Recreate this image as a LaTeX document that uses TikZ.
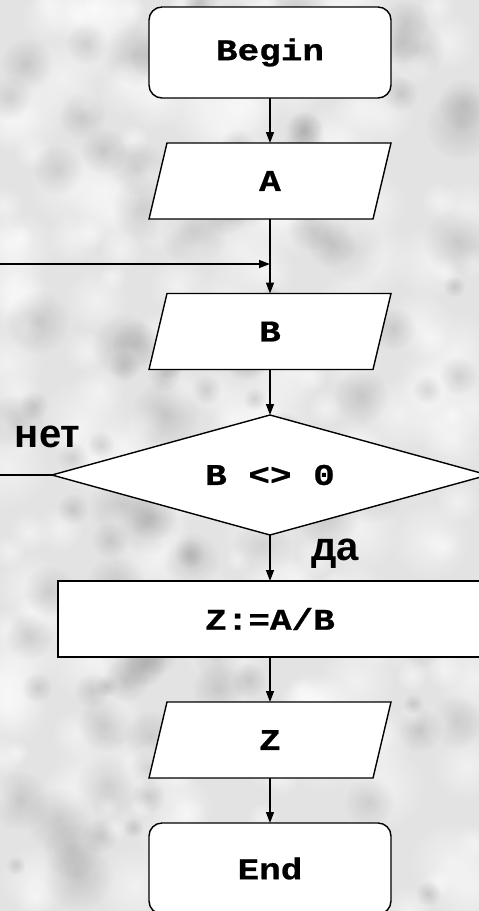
\documentclass[tikz,border=0pt]{standalone}
\usepackage{fontspec}
\setmainfont{Liberation Sans}
\newfontfamily\flowmono[FakeStretch=1.2,FakeBold=0.8]{Liberation Mono}
\usetikzlibrary{shapes.geometric,arrows.meta,calc,fadings}
\tikzfading[name=softblob, inner color=transparent!0, outer color=transparent!100]
\pgfdeclarelayer{texture}
\pgfdeclarelayer{shapes}
\pgfsetlayers{texture,shapes,main}
\newcommand\ioshape[1]{%
  \begin{pgfonlayer}{shapes}
    \filldraw[shapeline] ($(#1.north west)+(18,0)$) -- (#1.north east)
      -- ($(#1.south east)+(-18,0)$) -- (#1.south west) -- cycle;
  \end{pgfonlayer}}
\begin{document}
\begin{tikzpicture}[x=1pt,y=-1pt,
  every node/.style={inner sep=0pt, outer sep=0pt},
  txt/.style={font=\flowmono\bfseries\fontsize{30}{30}\selectfont},
  shapeline/.style={draw=black, fill=white, line width=1.4pt},
  box/.style={shapeline, txt},
  term/.style={box, rectangle, rounded corners=13pt, minimum width=242pt, minimum height=91pt},
  io/.style={txt, rectangle, minimum width=242pt, minimum height=76pt},
  proc/.style={box, rectangle, minimum width=424pt, minimum height=76pt},
  decision/.style={box, diamond, aspect=3.6, minimum width=436pt, minimum height=120pt},
  flow/.style={line width=1.4pt, -{Triangle[length=11pt,width=8pt]}},
  plain/.style={line width=1.4pt},
  lbl/.style={font=\bfseries\fontsize{40}{40}\selectfont, anchor=base west}
]
\useasboundingbox (0,0) rectangle (479,911);
\clip (0,0) rectangle (479,911);
% background texture
\begin{pgfonlayer}{texture}
\fill[black!11] (0,0) rectangle (479,911);
\pgfmathsetseed{11}
\foreach \i in {1,...,260}{
  \pgfmathsetmacro{\px}{rnd*479}
  \pgfmathsetmacro{\py}{rnd*911}
  \pgfmathsetmacro{\pr}{12+rnd*34}
  \fill[white, opacity=0.5, path fading=softblob] (\px,\py) circle[radius=\pr];
}
\foreach \i in {1,...,120}{
  \pgfmathsetmacro{\px}{rnd*479}
  \pgfmathsetmacro{\py}{rnd*911}
  \pgfmathsetmacro{\pr}{10+rnd*26}
  \fill[black, opacity=0.12, path fading=softblob] (\px,\py) circle[radius=\pr];
}
\end{pgfonlayer}
% nodes
\node[term] (begin) at (270,52.5) {Begin};
\node[io] (A) at (270,181) {A};
\ioshape{A}
\node[io] (B) at (270,331.5) {B};
\ioshape{B}
\node[decision] (dec) at (270,475) {B <> 0};
\node[proc] (calc) at (270,619) {Z:=A/B};
\node[io] (Z) at (270,740) {Z};
\ioshape{Z}
\node[term] (end) at (270,868.5) {End};
\coordinate (loopL) at (0,264);
\coordinate (noL) at (0,475);
% labels
\node[lbl] (net) at (15,447) {нет};
\node[lbl] (da) at (311,560) {да};
% connectors
\draw[flow] (begin) -- (A);
\draw[plain] (A) -- (A.center |- loopL);
\draw[flow] (A.center |- loopL) -- (B);
\draw[flow] (loopL) -- (loopL -| A.center);
\draw[flow] (B) -- (dec);
\draw[plain] (dec.west) -- (noL);
\draw[flow] (dec) -- (calc);
\draw[flow] (calc) -- (Z);
\draw[flow] (Z) -- (end);
\end{tikzpicture}
\end{document}
